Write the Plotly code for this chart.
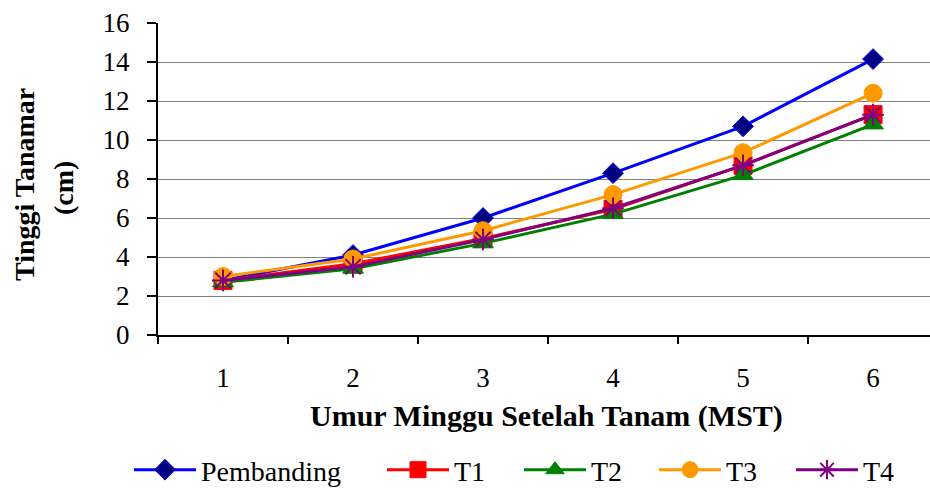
import plotly.graph_objects as go

# Plant height (cm) per week after planting
weeks = ["1", "2", "3", "4", "5", "6"]
pembanding = [2.8, 4.1, 6.0, 8.3, 10.7, 14.15]
t1 = [2.8, 3.65, 4.95, 6.45, 8.7, 11.3]
t2 = [2.7, 3.4, 4.7, 6.2, 8.2, 10.8]
t3 = [3.0, 3.9, 5.35, 7.2, 9.35, 12.4]
t4 = [2.8, 3.5, 4.9, 6.5, 8.7, 11.3]

series_names = ["Pembanding", "T1", "T2", "T3", "T4"]
series_values = [pembanding, t1, t2, t3, t4]
line_colors = ["#0000FF", "#FF0000", "#008000", "#FF9900", "#800080"]
marker_fill = ["#000080", "#FF0000", "#008000", "#FF9900", "#800080"]
marker_line = ["#0000FF", "#FF0000", "#008000", "#FF9900", "#800080"]
symbols = ["diamond", "square", "triangle-up", "circle", "asterisk-open"]
sizes = [16, 18, 18, 18, 18]
# left edge (px) of each legend entry
legend_left_px = [135, 388, 525, 660, 797]

FONT = "Liberation Serif"
L, R, T, B = 158, 0, 23, 155
W, H = 930, 490
plot_w = W - L - R
plot_h = H - T - B

fig = go.Figure()
for i, (name, vals) in enumerate(zip(series_names, series_values)):
    leg = "legend" if i == 0 else f"legend{i + 1}"
    fig.add_trace(go.Scatter(
        x=weeks, y=vals, name=name, mode="lines+markers",
        line=dict(color=line_colors[i], width=3),
        marker=dict(symbol=symbols[i], size=sizes[i], color=marker_fill[i],
                    line=dict(color=marker_line[i], width=2 if symbols[i] == "asterisk-open" else 1)),
        legend=leg,
    ))

layout_legends = {}
for i, px in enumerate(legend_left_px):
    key = "legend" if i == 0 else f"legend{i + 1}"
    layout_legends[key] = dict(
        x=(px - 6 - L) / plot_w, xanchor="left",
        y=(T + plot_h - 470) / plot_h, yanchor="middle",
        orientation="h", bgcolor="rgba(0,0,0,0)", borderwidth=0,
        font=dict(family=FONT, size=28, color="black"),
        itemwidth=62,
    )

fig.update_layout(
    width=W, height=H,
    margin=dict(l=L, r=R, t=T, b=B, autoexpand=False),
    paper_bgcolor="white", plot_bgcolor="white",
    font=dict(family=FONT, color="black"),
    showlegend=True,
    **layout_legends,
)

fig.update_xaxes(
    type="category", range=[-0.5, 5.438],
    tickson="boundaries", ticks="outside", ticklen=7, tickwidth=1.5, tickcolor="black",
    showline=True, linecolor="black", linewidth=2,
    showgrid=False, zeroline=False,
    tickfont=dict(family=FONT, size=27, color="black"),
    ticklabelstandoff=18,
)
fig.update_yaxes(
    range=[0, 16], tickvals=[0, 2, 4, 6, 8, 10, 12, 14, 16],
    ticks="outside", ticklen=9, tickwidth=1.5, tickcolor="black",
    showline=True, linecolor="black", linewidth=2,
    showgrid=True, gridcolor="#808080", gridwidth=1, zeroline=False,
    tickfont=dict(family=FONT, size=27, color="black"),
    ticklabelstandoff=12,
)

# Axis titles
fig.add_annotation(
    text="<b>Umur Minggu Setelah Tanam (MST)</b>", showarrow=False,
    xref="paper", yref="paper", x=(546 - L) / plot_w, y=(T + plot_h - 416) / plot_h,
    xanchor="center", yanchor="middle",
    font=dict(family=FONT, size=30, color="black"),
)
fig.add_annotation(
    text="<b>Tinggi Tanamar</b>", showarrow=False, textangle=-90,
    xref="paper", yref="paper", x=(25 - L) / plot_w, y=(T + plot_h - 185) / plot_h,
    xanchor="center", yanchor="middle",
    font=dict(family=FONT, size=28, color="black"),
)
fig.add_annotation(
    text="<b>(cm)</b>", showarrow=False, textangle=-90,
    xref="paper", yref="paper", x=(63 - L) / plot_w, y=(T + plot_h - 188) / plot_h,
    xanchor="center", yanchor="middle",
    font=dict(family=FONT, size=28, color="black"),
)

fig.write_html("out.html")
